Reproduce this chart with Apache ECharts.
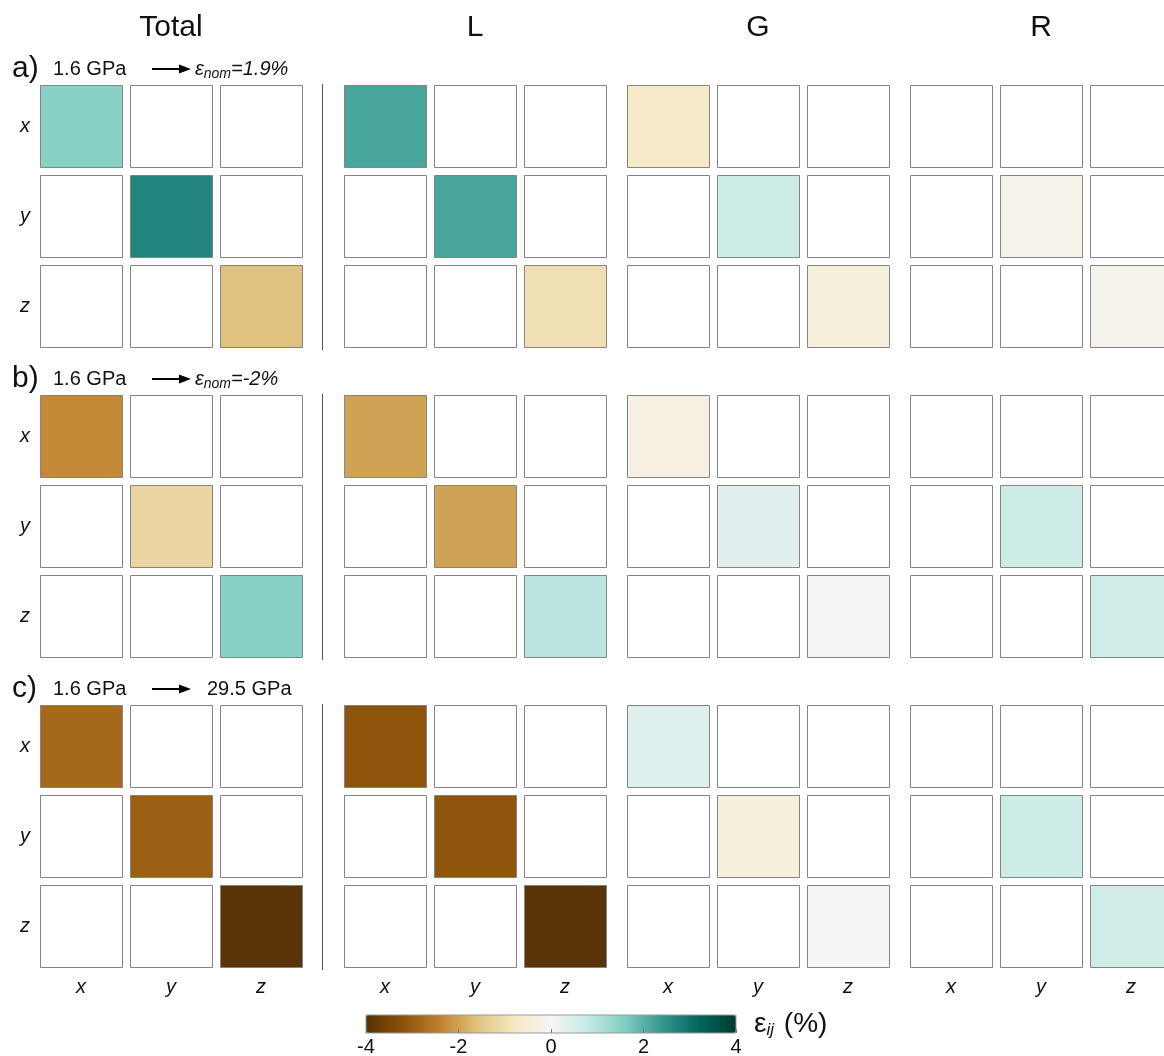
<!DOCTYPE html>
<html><head><meta charset="utf-8">
<script src="https://cdn.jsdelivr.net/npm/echarts@6/dist/echarts.min.js"></script>
<style>html,body{margin:0;padding:0;background:#fff}#c{width:1164px;height:1056px}</style>
</head><body><div id="c"></div>
<script>
// ---- data ----
const components = ['x', 'y', 'z'];
const groupNames = ['Total', 'L', 'G', 'R'];
const panelLabels = ['a)', 'b)', 'c)'];
// diagonal strain components (xx, yy, zz) in %, null = not shown
const aTotal = [1.5, 2.7, -1.6];
const aL = [2.2, 2.2, -1.0];
const aG = [-0.7, 0.7, -0.4];
const aR = [null, -0.2, -0.15];
const bTotal = [-2.3, -1.2, 1.5];
const bL = [-2.0, -2.0, 0.95];
const bG = [-0.3, 0.35, -0.03];
const bR = [null, 0.7, 0.65];
const cTotal = [-2.8, -2.95, -3.9];
const cL = [-3.15, -3.15, -3.9];
const cG = [0.4, -0.4, -0.03];
const cR = [null, 0.7, 0.65];
const cbMin = -4, cbMax = 4, cbStep = 2;
const brbg = ['#543005','#8c510a','#bf812d','#dfc27d','#f6e8c3','#f5f5f5','#c7eae5','#80cdc1','#35978f','#01665e','#003c30'];

const panels = [[aTotal, aL, aG, aR], [bTotal, bL, bG, bR], [cTotal, cL, cG, cR]];

// ---- layout ----
const gridLefts = [36, 340, 623, 906];
const gridTops = [81, 391, 701];
const gSize = 270;
const FONT = 'Liberation Sans, Arial, Helvetica, sans-serif';

const grids = [], xAxes = [], yAxes = [], series = [];
panels.forEach(function (row, r) {
  row.forEach(function (diag, g) {
    const idx = grids.length;
    grids.push({left: gridLefts[g], top: gridTops[r], width: gSize, height: gSize, containLabel: false, outerBoundsMode: 'none'});
    xAxes.push({
      type: 'category', gridIndex: idx, data: components,
      axisLine: {show: false}, axisTick: {show: false}, splitLine: {show: false},
      axisLabel: {show: r === 2, margin: 6, fontSize: 20, fontStyle: 'italic', color: '#111', fontFamily: FONT}
    });
    yAxes.push({
      type: 'category', gridIndex: idx, data: components, inverse: true,
      axisLine: {show: false}, axisTick: {show: false}, splitLine: {show: false},
      axisLabel: {show: g === 0, margin: 6, fontSize: 20, fontStyle: 'italic', color: '#111', fontFamily: FONT}
    });
    const data = [];
    for (let i = 0; i < 3; i++) {
      for (let j = 0; j < 3; j++) {
        data.push([j, i, i === j && diag[i] !== null ? diag[i] : NaN]);
      }
    }
    series.push({
      type: 'custom', xAxisIndex: idx, yAxisIndex: idx, data: data,
      encode: {x: 0, y: 1}, clip: false,
      renderItem: function (params, api) {
        const c = api.coord([api.value(0), api.value(1)]);
        const s = api.size([1, 1]);
        const w = Math.round(s[0] - 8), h = Math.round(s[1] - 8);
        const v = api.value(2);
        const fill = (v === null || isNaN(v)) ? '#ffffff' : api.visual('color');
        return {
          type: 'rect',
          shape: {x: Math.round(c[0] - w / 2) + 0.5, y: Math.round(c[1] - h / 2) + 0.5, width: w, height: h},
          style: {fill: fill, stroke: '#858585', lineWidth: 1}
        };
      }
    });
  });
});

// colour bar axis grid
const cbIdx = grids.length;
grids.push({left: 366, top: 1015, width: 370, height: 18, show: true, borderColor: '#999', borderWidth: 1, backgroundColor: 'transparent', z: 10, outerBoundsMode: 'none'});
xAxes.push({
  type: 'value', gridIndex: cbIdx, min: cbMin, max: cbMax, interval: cbStep, position: 'bottom',
  axisLine: {show: false}, splitLine: {show: false},
  axisTick: {show: true, inside: true, length: 4, lineStyle: {color: '#777'}},
  axisLabel: {margin: 4, fontSize: 20, color: '#111', fontFamily: FONT}, z: 10
});
yAxes.push({type: 'value', gridIndex: cbIdx, show: false, min: 0, max: 1});

// ---- texts & graphic ----
const titleX = [171, 475, 758, 1041];
const graphic = [];
groupNames.forEach(function (n, g) {
  graphic.push({type: 'text', x: titleX[g], y: 28, style: {text: n, font: '30px ' + FONT, fill: '#111', textAlign: 'center', textVerticalAlign: 'middle'}});
});
const panelNotes = [
  '{i|ε}{s|nom}{i|=1.9%}',
  '{i|ε}{s|nom}{i|=-2%}',
  '{n|29.5 GPa}'
];
const noteX = [195, 195, 207];
const richStyle = {
  i: {fontSize: 20, fontStyle: 'italic', fontFamily: FONT, fill: '#111', lineHeight: 24},
  n: {fontSize: 20, fontFamily: FONT, fill: '#111', lineHeight: 24},
  s: {fontSize: 14, fontStyle: 'italic', fontFamily: FONT, fill: '#111', lineHeight: 14, padding: [10, 0, 0, 0]}
};
panelLabels.forEach(function (lab, r) {
  const yc = 69 + r * 310;
  graphic.push({type: 'text', x: 12, y: yc, style: {text: lab, font: '30px ' + FONT, fill: '#111', textVerticalAlign: 'middle'}});
  graphic.push({type: 'text', x: 53, y: yc, style: {text: '1.6 GPa', font: '20px ' + FONT, fill: '#111', textVerticalAlign: 'middle'}});
  graphic.push({type: 'line', shape: {x1: 152, y1: yc, x2: 181, y2: yc}, style: {stroke: '#000', lineWidth: 2}});
  graphic.push({type: 'polygon', shape: {points: [[179, yc - 4.5], [191, yc], [179, yc + 4.5]]}, style: {fill: '#000'}});
  graphic.push({type: 'text', x: noteX[r], y: yc, style: {text: panelNotes[r], rich: richStyle, textVerticalAlign: 'middle'}});
  // separator between Total and components
  graphic.push({type: 'line', shape: {x1: 322.5, y1: gridTops[r] + 3, x2: 322.5, y2: gridTops[r] + gSize - 1}, style: {stroke: '#555', lineWidth: 1}});
});
graphic.push({type: 'text', x: 754, y: 1024, style: {
  text: '{e|ε}{s|ij}{e| (%)}', textVerticalAlign: 'middle',
  rich: {
    e: {fontSize: 28, fontFamily: FONT, fill: '#111', lineHeight: 32},
    s: {fontSize: 17, fontStyle: 'italic', fontFamily: FONT, fill: '#111', lineHeight: 17, padding: [13, 2, 0, 0]}
  }
}});

const chart = echarts.init(document.getElementById('c'), null, {renderer: 'canvas'});
chart.setOption({
  animation: false,
  backgroundColor: '#ffffff',
  grid: grids, xAxis: xAxes, yAxis: yAxes, series: series,
  visualMap: {
    type: 'continuous', min: cbMin, max: cbMax, dimension: 2,
    seriesIndex: series.map(function (s, i) { return i; }),
    inRange: {color: brbg}, orient: 'horizontal',
    left: 366, top: 1015, itemWidth: 18, itemHeight: 370,
    calculable: false, text: null, padding: 0, hoverLink: false, z: 4
  },
  graphic: graphic
});
</script></body></html>
